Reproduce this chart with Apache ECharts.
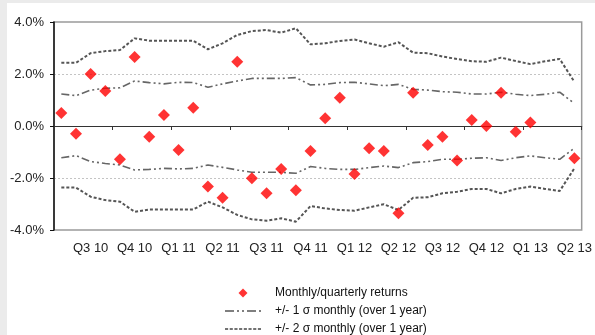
<!DOCTYPE html>
<html>
<head>
<meta charset="utf-8">
<script src="https://cdn.jsdelivr.net/npm/echarts@6/dist/echarts.min.js"></script>
<style>
  body { margin: 0; background: #ebebeb; }
  #panel { position: absolute; left: 7px; top: 3px; right: 0; bottom: 0; background: #fff; }
  #chart { position: absolute; left: 0; top: 0; width: 595px; height: 335px; }
</style>
</head>
<body>
<div id="panel"></div>
<div id="chart"></div>
<script>
// monthly categories Jul 10 .. Jun 13
const months = [
  "Jul 10", "Aug 10", "Sep 10", "Oct 10", "Nov 10", "Dec 10",
  "Jan 11", "Feb 11", "Mar 11", "Apr 11", "May 11", "Jun 11",
  "Jul 11", "Aug 11", "Sep 11", "Oct 11", "Nov 11", "Dec 11",
  "Jan 12", "Feb 12", "Mar 12", "Apr 12", "May 12", "Jun 12",
  "Jul 12", "Aug 12", "Sep 12", "Oct 12", "Nov 12", "Dec 12",
  "Jan 13", "Feb 13", "Mar 13", "Apr 13", "May 13", "Jun 13"
];
const quarterLabels = [
  "Q3 10", "Q4 10", "Q1 11", "Q2 11", "Q3 11", "Q4 11",
  "Q1 12", "Q2 12", "Q3 12", "Q4 12", "Q1 13", "Q2 13"
];

const returns = [
  0.5, -0.3, 2.0, 1.35, -1.28, 2.65, -0.41, 0.42, -0.92, 0.7, -2.33, -2.76,
  2.47, -2.01, -2.59, -1.65, -2.47, -0.96, 0.3, 1.09, -1.85, -0.86, -0.96, -3.36,
  1.28, -0.73, -0.41, -1.33, 0.23, 0.0, 1.28, -0.22, 0.13, null, null, -1.24
];
const sigma1Up = [
  1.23, 1.17, 1.38, 1.45, 1.47, 1.73, 1.67, 1.62, 1.68, 1.67, 1.49, 1.62,
  1.73, 1.83, 1.83, 1.83, 1.86, 1.58, 1.6, 1.67, 1.68, 1.62, 1.55, 1.6,
  1.41, 1.38, 1.32, 1.3, 1.23, 1.23, 1.3, 1.22, 1.17, 1.22, 1.3, 0.87
];
const sigma1Down = [
  -1.22, -1.14, -1.37, -1.44, -1.5, -1.69, -1.67, -1.63, -1.65, -1.63, -1.5, -1.59,
  -1.69, -1.78, -1.78, -1.78, -1.82, -1.56, -1.63, -1.67, -1.67, -1.6, -1.54, -1.6,
  -1.41, -1.37, -1.28, -1.28, -1.24, -1.22, -1.33, -1.22, -1.15, -1.22, -1.28, -0.85
];
const sigma2Up = [
  2.43, 2.43, 2.8, 2.88, 2.92, 3.37, 3.28, 3.28, 3.28, 3.28, 2.95, 3.18,
  3.5, 3.65, 3.69, 3.59, 3.76, 3.14, 3.18, 3.27, 3.33, 3.18, 3.05, 3.22,
  2.82, 2.8, 2.67, 2.58, 2.49, 2.47, 2.63, 2.5, 2.38, 2.49, 2.58, 1.7
];
const sigma2Down = [
  -2.37, -2.37, -2.72, -2.85, -2.91, -3.3, -3.21, -3.21, -3.21, -3.21, -2.91, -3.13,
  -3.42, -3.59, -3.64, -3.55, -3.68, -3.08, -3.17, -3.23, -3.26, -3.13, -3.01, -3.23,
  -2.76, -2.74, -2.59, -2.53, -2.42, -2.42, -2.59, -2.42, -2.33, -2.42, -2.5, -1.63
];

const NAME_RET = "Monthly/quarterly returns";
const NAME_S1 = "+/- 1 σ monthly (over 1 year)";
const NAME_S2 = "+/- 2 σ monthly (over 1 year)";

const font = "Liberation Sans, Arial, sans-serif";
const s1Style = { color: "#666", width: 1.6, type: [8, 3, 2, 3, 2, 3] };
const s2Style = { color: "#555", width: 2, type: [3, 2] };

// legend icons built as filled paths so the dash pattern shows
function dashPath(pattern, total, h) {
  let d = "", x = 0, k = 0;
  while (x < total) {
    const len = Math.min(pattern[k % pattern.length], total - x);
    if (k % 2 === 0) d += "M" + x + " 0h" + len + "v" + h + "h-" + len + "z";
    x += pattern[k % pattern.length];
    k++;
  }
  return "path://" + d;
}
const iconS1 = dashPath([9, 3, 2, 3, 2, 3], 36, 1.6);
const iconS2 = dashPath([3, 1.5], 36, 1.6);
const iconDiamond = "path://M5 0L10 5L5 10L0 5z";

const chart = echarts.init(document.getElementById("chart"), null, { renderer: "canvas" });

const option = {
  backgroundColor: "transparent",
  animation: false,
  grid: {
    left: 54, right: 9, top: 22, bottom: 105,
    show: true, borderColor: "#9a9a9a", borderWidth: 1.5, backgroundColor: "transparent"
  },
  legend: {
    orient: "vertical",
    left: 225,
    top: 287,
    padding: 0,
    itemWidth: 36,
    itemHeight: 9,
    itemGap: 6,
    symbolKeepAspect: true,
    data: [
      { name: NAME_RET, icon: iconDiamond, itemStyle: { color: "#ff0000" } },
      { name: NAME_S1, icon: iconS1, itemStyle: { color: "#555" } },
      { name: NAME_S2, icon: iconS2, itemStyle: { color: "#444" } }
    ],
    textStyle: { fontFamily: font, fontSize: 12, color: "#111", padding: [0, 0, 0, 9] }
  },
  xAxis: [
    {
      type: "category",
      data: months,
      axisLine: { onZero: true, lineStyle: { color: "#333", width: 1.2 } },
      axisTick: { show: true, length: 4, lineStyle: { color: "#333" } },
      axisLabel: { show: false },
      splitLine: { show: false }
    },
    {
      type: "category",
      data: months,
      position: "bottom",
      axisLine: { show: false, onZero: false },
      axisTick: { show: false },
      axisLabel: {
        margin: 12,
        fontFamily: font,
        fontSize: 13,
        color: "#222",
        interval: (i) => i % 3 === 2,
        formatter: (v, i) => quarterLabels[(i - 2) / 3]
      }
    }
  ],
  yAxis: {
    type: "value",
    min: -4,
    max: 4,
    interval: 2,
    axisLine: { show: true, lineStyle: { color: "#111", width: 1.5 } },
    axisTick: { show: true, length: 4, lineStyle: { color: "#111" } },
    axisLabel: {
      margin: 10,
      fontFamily: font,
      fontSize: 13,
      color: "#222",
      formatter: (v) => v.toFixed(1) + "%"
    },
    splitLine: {
      show: true,
      lineStyle: { color: ["rgba(0,0,0,0)", "#c4c4c4"], type: [2, 2], width: 1 }
    }
  },
  series: [
    { name: NAME_S2, type: "line", data: sigma2Up, symbol: "none", lineStyle: s2Style, color: "#555" },
    { name: NAME_S2, type: "line", data: sigma2Down, symbol: "none", lineStyle: s2Style, color: "#555" },
    { name: NAME_S1, type: "line", data: sigma1Up, symbol: "none", lineStyle: s1Style, color: "#666" },
    { name: NAME_S1, type: "line", data: sigma1Down, symbol: "none", lineStyle: s1Style, color: "#666" },
    {
      name: NAME_RET,
      type: "scatter",
      data: returns,
      symbol: "diamond",
      symbolSize: 12,
      itemStyle: { color: "#ff0000" },
      z: 5
    }
  ]
};

chart.setOption(option);
</script>
</body>
</html>
